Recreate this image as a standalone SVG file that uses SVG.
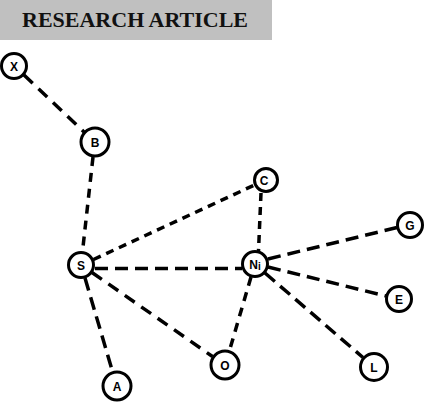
<svg xmlns="http://www.w3.org/2000/svg" width="428" height="412" viewBox="0 0 428 412">
<style>
.node circle{fill:#fff;stroke:#000;stroke-width:3}
.node text{font-family:"Liberation Sans",Arial,sans-serif;font-weight:bold;font-size:12px;text-anchor:middle;fill:#000}
.e{stroke:#000;stroke-width:3.5;fill:none;stroke-linecap:butt}
.d1{stroke-dasharray:12 8}
.d2{stroke-dasharray:9 7}
.d3{stroke-dasharray:13 7}
.d4{stroke-dasharray:8 6}
</style>
<rect x="0" y="0" width="272" height="40" fill="#c0c0c0"/>
<text x="22" y="27" font-family="Liberation Serif,'Times New Roman',serif" font-weight="bold" font-size="22" fill="#111">RESEARCH ARTICLE</text>
<g id="connectors">
<line class="e d1" x1="24" y1="75" x2="84" y2="132"/>
<line class="e d2" x1="93" y1="157" x2="82.5" y2="251.5"/>
<line class="e d4" x1="93.5" y1="259.5" x2="254.5" y2="185"/>
<line class="e d3" x1="95" y1="268.5" x2="242" y2="268.5"/>
<line class="e d1" x1="92" y1="272.5" x2="212.5" y2="356.5"/>
<line class="e d3" x1="85" y1="278" x2="112.5" y2="371.5"/>
<line class="e d4" x1="261" y1="193" x2="258.5" y2="251"/>
<line class="e d3" x1="268" y1="259" x2="397" y2="227.5"/>
<line class="e d3" x1="268" y1="267" x2="386" y2="296"/>
<line class="e d3" x1="265" y1="273" x2="363" y2="357.5"/>
<line class="e d2" x1="251" y1="277" x2="229.5" y2="350.5"/>
</g>
<g id="node-X" class="node"><circle cx="14" cy="66" r="12.5"/><text x="14" y="70.5">X</text></g>
<g id="node-B" class="node"><circle cx="95" cy="142" r="14"/><text x="95" y="146.5">B</text></g>
<g id="node-C" class="node"><circle cx="266" cy="180" r="11.5"/><text x="264" y="184.5">C</text></g>
<g id="node-G" class="node"><circle cx="410" cy="225" r="12.5"/><text x="410" y="229.5">G</text></g>
<g id="node-Ni" class="node"><circle cx="255" cy="264" r="12.5"/><text x="255" y="269" font-size="14">N<tspan font-size="10" dy="1">i</tspan></text></g>
<g id="node-S" class="node"><circle cx="81" cy="265" r="12.5"/><text x="81" y="269.5">S</text></g>
<g id="node-E" class="node"><circle cx="399" cy="299" r="12.5"/><text x="399" y="303.5">E</text></g>
<g id="node-O" class="node"><circle cx="225" cy="365" r="14"/><text x="225" y="369.5">O</text></g>
<g id="node-L" class="node"><circle cx="374" cy="367" r="13.5"/><text x="374" y="371.5">L</text></g>
<g id="node-A" class="node"><circle cx="117" cy="386" r="14"/><text x="117" y="390.5">A</text></g>
</svg>
